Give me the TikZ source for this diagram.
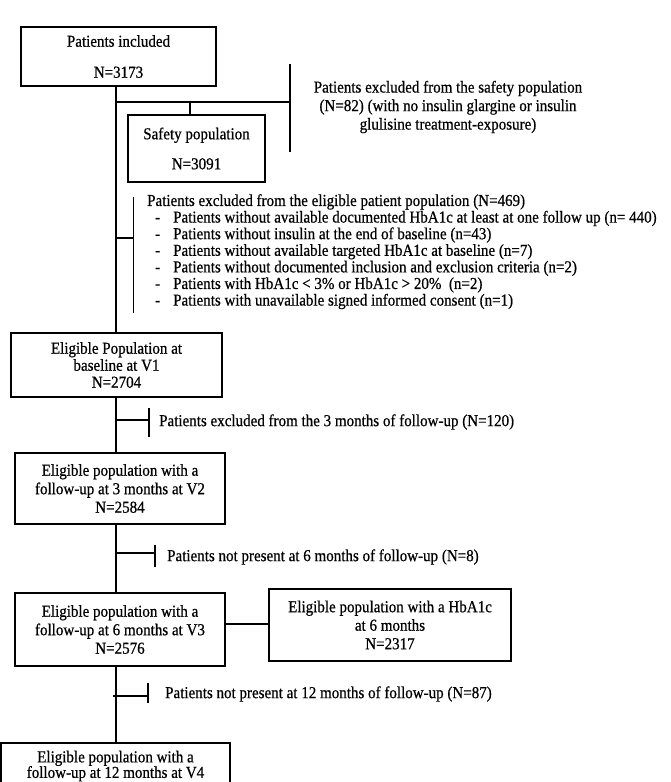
\documentclass[tikz,border=0pt]{standalone}
\usepackage{fontspec}
\setmainfont[FakeStretch=0.9,FakeBold=0.6]{Liberation Serif}
\newcommand\fs{\fontsize{16.7}{18.5}\selectfont}
\newcommand\fsl{\fontsize{16.7}{16.6}\selectfont}
\newcommand\itm{\hspace*{8pt}\makebox[18pt][l]{-}}
\begin{document}
\begin{tikzpicture}[x=1pt,y=-1pt,
  box/.style={draw,line width=1.5pt,inner sep=0pt,align=center,font=\fs},
  ln/.style={line width=1.5pt},
  lbl/.style={inner sep=0pt,font=\fs}]
\clip (0,0) rectangle (671,782);
% boxes
\node[box,minimum width=195pt,minimum height=59pt] (b1) at (118.5,56.5) {Patients included\\[12.5pt]N=3173};
\node[box,minimum width=137pt,minimum height=67pt] (safe) at (196.5,148.5) {Safety population\\[11.5pt]N=3091};
\node[box,minimum width=211pt,minimum height=64pt] (v1) at (116.5,365) {Eligible Population at\\[-1.5pt]baseline at V1\\[-1.5pt]N=2704};
\node[box,minimum width=210pt,minimum height=71pt] (v2) at (120,488.5) {Eligible population with a\\follow-up at 3 months at V2\\N=2584};
\node[box,minimum width=210pt,minimum height=73pt] (v3) at (120,629.5) {Eligible population with a\\follow-up at 6 months at V3\\N=2576};
\node[box,minimum width=242pt,minimum height=72pt] (hb) at (390,625) {Eligible population with a HbA1c\\at 6 months\\N=2317};
\node[box,anchor=north,minimum width=229pt,inner ysep=8pt] (v4) at (115.5,742) {Eligible population with a\\[-3pt]follow-up at 12 months at V4};
% trunk
\coordinate (t) at (116,0);
\draw[ln] (b1.south -| t) -- (v1.north -| t);
\draw[ln] (v1.south -| t) -- (v2.north -| t);
\draw[ln] (v2.south -| t) -- (v3.north -| t);
\draw[ln] (v3.south -| t) -- (v4.north -| t);
% safety exclusion
\coordinate (j1) at (116,102);
\coordinate (j1b) at (190,102);
\coordinate (s1a) at (290,64);
\coordinate (s1b) at (290,152);
\draw[ln] (j1) -- (j1 -| s1a);
\draw[ln] (s1a) -- (s1b);
\draw[ln] (j1b) -- (j1b |- safe.north);
\node[lbl,align=center] (x1) at (448,107) {Patients excluded from the safety population\\(N=82) (with no insulin glargine or insulin\\glulisine treatment-exposure)};
% eligible exclusion
\coordinate (j2) at (116,238);
\coordinate (s2a) at (133.5,197);
\coordinate (s2b) at (133.5,313);
\draw[ln] (j2) -- (j2 -| s2a);
\draw[ln] (s2a) -- (s2b);
\node[lbl,align=left,anchor=north west,font=\fsl] (x2) at (147,194) {Patients excluded from the eligible patient population (N=469)\\
\itm Patients without available documented HbA1c at least at one follow up (n= 440)\\
\itm Patients without insulin at the end of baseline (n=43)\\
\itm Patients without available targeted HbA1c at baseline (n=7)\\
\itm Patients without documented inclusion and exclusion criteria (n=2)\\
\itm Patients with HbA1c < 3\% or HbA1c > 20\%\ \ (n=2)\\
\itm Patients with unavailable signed informed consent (n=1)};
% 3 months exclusion
\coordinate (j3) at (116,420);
\coordinate (s3a) at (149,408);
\coordinate (s3b) at (149,437);
\draw[ln] (j3) -- (j3 -| s3a);
\draw[ln] (s3a) -- (s3b);
\node[lbl,anchor=west] (x3) at (159,422) {Patients excluded from the 3 months of follow-up (N=120)};
% 6 months
\coordinate (j4) at (116,553);
\coordinate (s4a) at (155,545);
\coordinate (s4b) at (155,567);
\draw[ln] (j4) -- (j4 -| s4a);
\draw[ln] (s4a) -- (s4b);
\node[lbl,anchor=west] (x4) at (167,557) {Patients not present at 6 months of follow-up (N=8)};
% v3 -- hb
\draw[ln] (v3.east |- 0,624) -- (hb.west |- 0,624);
% 12 months
\coordinate (j5) at (113,696);
\coordinate (s5a) at (148,683);
\coordinate (s5b) at (148,703);
\draw[ln] (j5) -- (j5 -| s5a);
\draw[ln] (s5a) -- (s5b);
\node[lbl,anchor=west] (x5) at (165,694) {Patients not present at 12 months of follow-up (N=87)};
\end{tikzpicture}
\end{document}
